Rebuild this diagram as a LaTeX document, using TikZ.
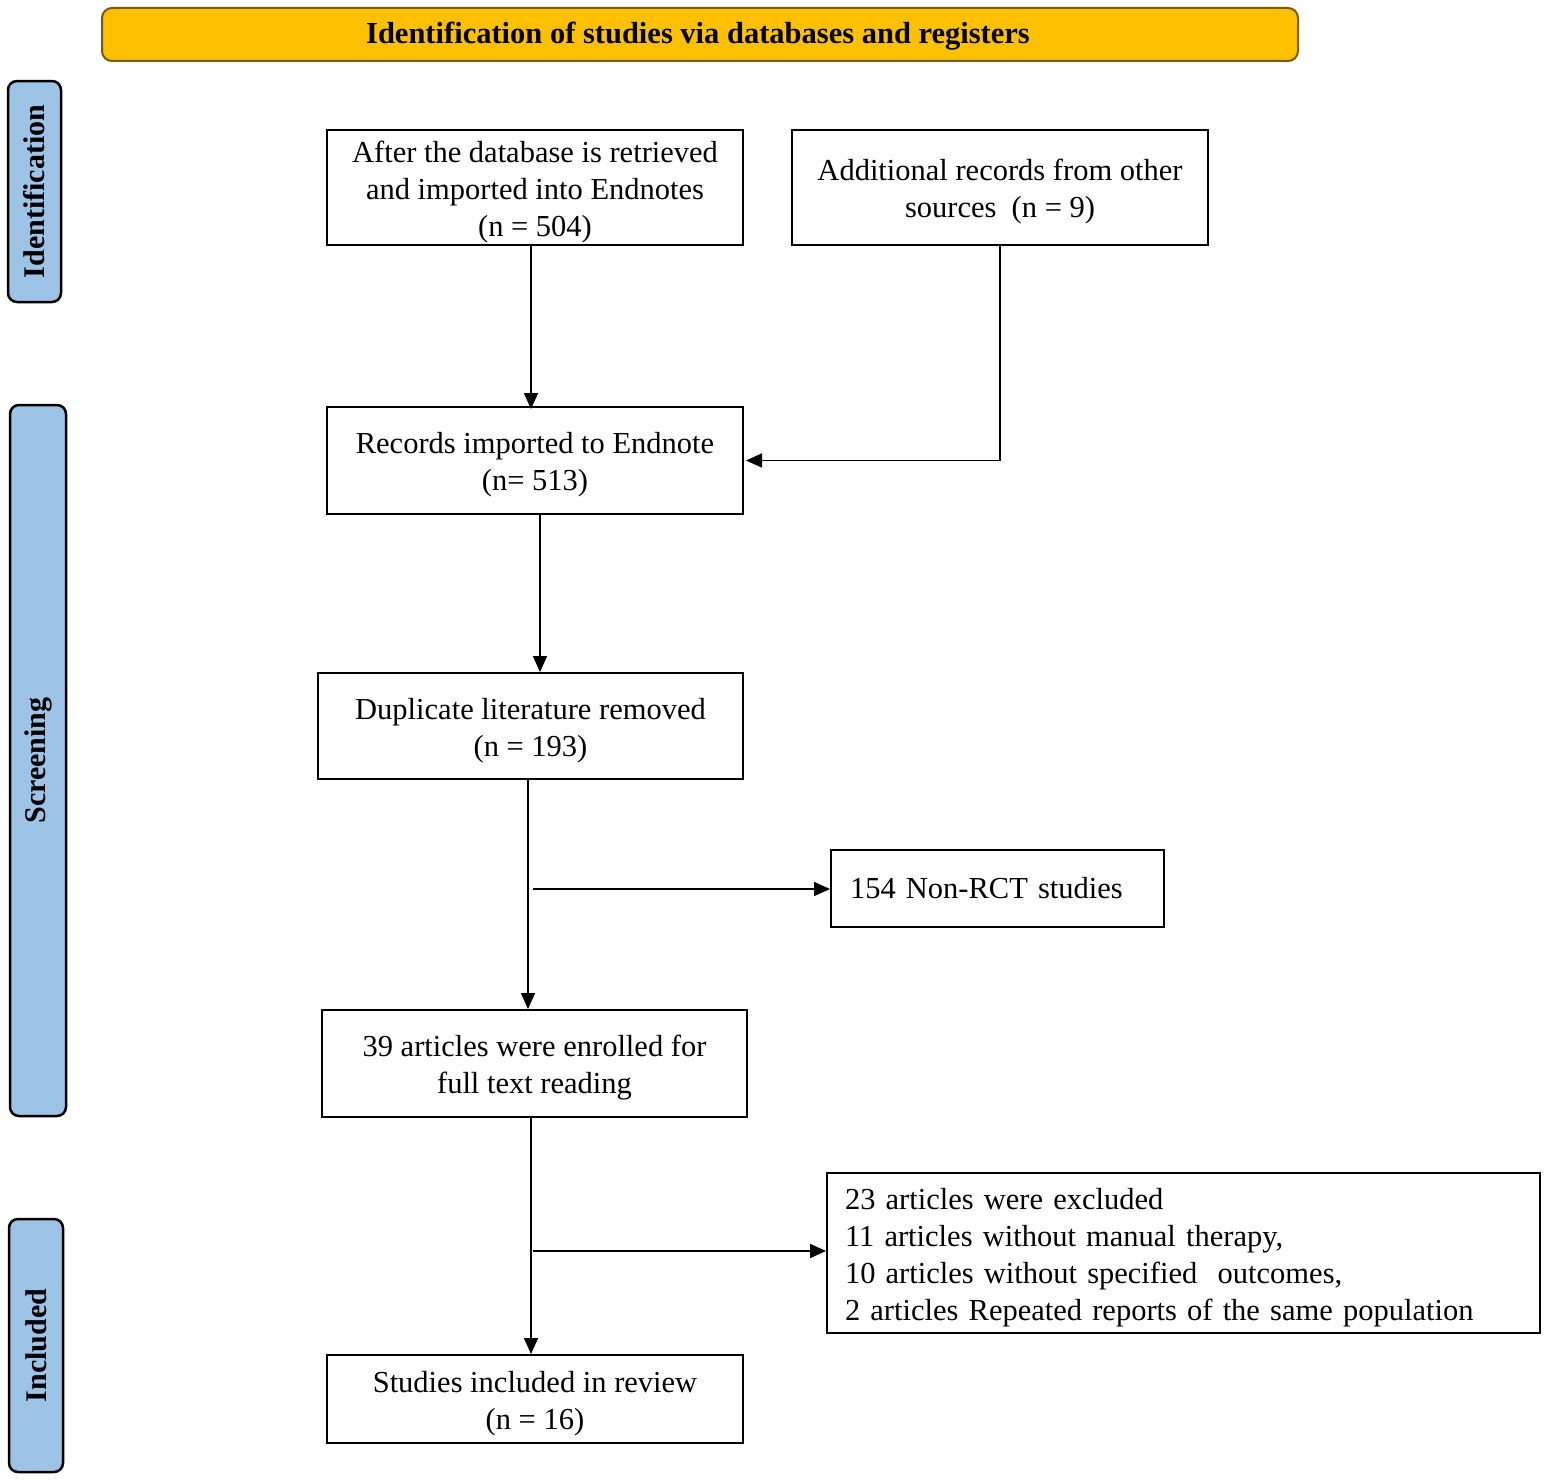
\documentclass[tikz,border=0pt]{standalone}
\usepackage{fontspec}
\setmainfont{Liberation Serif}
\usetikzlibrary{arrows.meta}
\definecolor{hdrfill}{HTML}{FFC000}
\definecolor{hdrdraw}{HTML}{7A5C00}
\definecolor{barfill}{HTML}{9DC3E6}
\newcommand{\mytopstrut}{\rule{0pt}{30pt}}
\tikzset{
  box/.style={draw, line width=2pt, inner sep=0pt, align=center, font=\fontsize{30.5}{37}\selectfont},
  lbox/.style={box, align=left},
  bar/.style={draw, line width=2.5pt, fill=barfill, rounded corners=9pt, inner sep=0pt, font=\bfseries\fontsize{30}{34}\selectfont},
  arr/.style={line width=1.6pt, -{Triangle[length=16pt,width=14pt]}},
}
\begin{document}
\begin{tikzpicture}[x=1pt,y=-1pt]
\useasboundingbox (0,0) rectangle (1547,1480);
% header
\node[draw=hdrdraw, line width=2pt, fill=hdrfill, rounded corners=10pt, minimum width=1196pt, minimum height=53pt, inner sep=0pt] (hdr) at (700,34.5) {};
\node[font=\bfseries\fontsize{30.5}{34}\selectfont, inner sep=0pt] (hdrt) at (698,36) {Identification of studies via databases and registers};
% side bars
\node[bar, minimum width=221pt, minimum height=53pt, rotate=90] (bid) at (34.5,191.5) {Identification};
\node[bar, minimum width=711pt, minimum height=56pt, rotate=90] (bsc) at (38,760.5) {Screening};
\node[bar, minimum width=253pt, minimum height=54pt, rotate=90] (bin) at (36,1345.5) {Included};
% boxes
\node[box, minimum width=416pt, minimum height=115pt] (A) at (535,187.5) {\mytopstrut After the database is retrieved\\and imported into Endnotes\\(n = 504)};
\node[box, minimum width=416pt, minimum height=115pt] (B) at (1000,187.5) {\mytopstrut Additional records from other\\sources\ \ (n = 9)};
\node[box, minimum width=416pt, minimum height=107pt] (C) at (535,460.5) {\mytopstrut Records imported to Endnote\\(n= 513)};
\node[box, minimum width=425pt, minimum height=106pt] (D) at (530.5,726) {\mytopstrut Duplicate literature removed\\(n = 193)};
\node[lbox, minimum width=333pt, minimum height=77pt, text width=295pt] (E) at (997.5,888.5) {154 Non-RCT studies};
\node[box, minimum width=425pt, minimum height=107pt] (F) at (534.5,1063.5) {\mytopstrut 39 articles were enrolled for\\full text reading};
\node[lbox, minimum width=713pt, minimum height=160pt, text width=677pt] (G) at (1183.5,1253) {\mytopstrut 23 articles were excluded\\11 articles without manual therapy,\\10 articles without specified\ \ outcomes,\\2 articles Repeated reports of the same population};
\node[box, minimum width=416pt, minimum height=88pt] (H) at (535,1399) {\mytopstrut Studies included in review\\(n = 16)};
% arrow columns
\coordinate (x1) at (531,0);
\coordinate (x2) at (540,0);
\coordinate (x3) at (528,0);
\coordinate (x4) at (531,0);
\coordinate (s1) at (533,889);
\coordinate (s2) at (533,1251);
\draw[arr] (A.south -| x1) -- ([yshift=-3pt]C.north -| x1);
\draw[arr] (B.south) |- ([xshift=2pt]C.east);
\draw[arr] (C.south -| x2) -- (D.north -| x2);
\draw[arr] (D.south -| x3) -- (F.north -| x3);
\draw[arr] (s1) -- (s1 -| E.west);
\draw[arr] (F.south -| x4) -- (H.north -| x4);
\draw[arr] (s2) -- (s2 -| G.west);
\end{tikzpicture}
\end{document}
